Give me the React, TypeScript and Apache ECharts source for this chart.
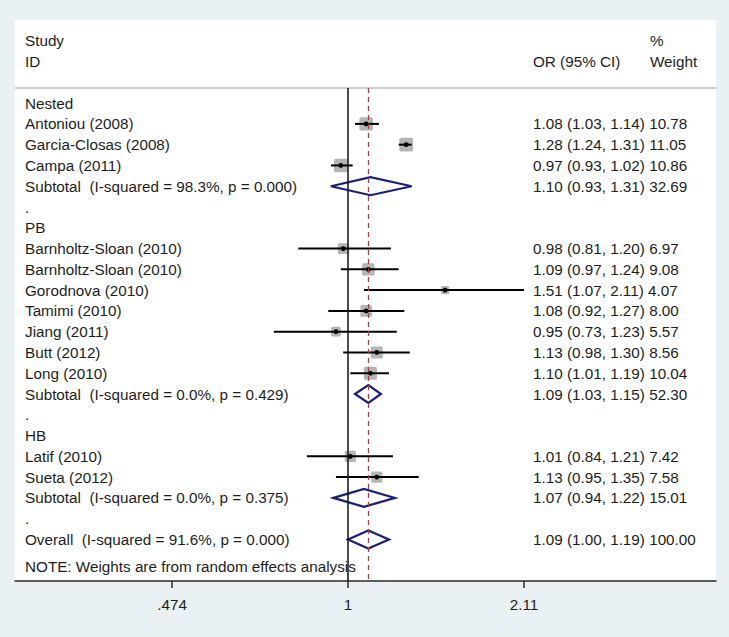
import React, { useEffect, useRef } from "react";
import * as echarts from "echarts";

// ---------- data ----------
const groupNames = ["Nested", "PB", "HB"];
const studyNames = [
  "Antoniou (2008)",
  "Garcia-Closas (2008)",
  "Campa (2011)",
  "Barnholtz-Sloan (2010)",
  "Barnholtz-Sloan (2010)",
  "Gorodnova (2010)",
  "Tamimi (2010)",
  "Jiang (2011)",
  "Butt (2012)",
  "Long (2010)",
  "Latif (2010)",
  "Sueta (2012)",
];
const studyGroup = [0, 0, 0, 1, 1, 1, 1, 1, 1, 1, 2, 2];
const studyOR = [1.08, 1.28, 0.97, 0.98, 1.09, 1.51, 1.08, 0.95, 1.13, 1.1, 1.01, 1.13];
const studyLow = [1.03, 1.24, 0.93, 0.81, 0.97, 1.07, 0.92, 0.73, 0.98, 1.01, 0.84, 0.95];
const studyHigh = [1.14, 1.31, 1.02, 1.2, 1.24, 2.11, 1.27, 1.23, 1.3, 1.19, 1.21, 1.35];
const studyWeight = [10.78, 11.05, 10.86, 6.97, 9.08, 4.07, 8.0, 5.57, 8.56, 10.04, 7.42, 7.58];

const subtotalLabels = [
  "Subtotal  (I-squared = 98.3%, p = 0.000)",
  "Subtotal  (I-squared = 0.0%, p = 0.429)",
  "Subtotal  (I-squared = 0.0%, p = 0.375)",
];
const subtotalOR = [1.1, 1.09, 1.07];
const subtotalLow = [0.93, 1.03, 0.94];
const subtotalHigh = [1.31, 1.15, 1.22];
const subtotalWeight = [32.69, 52.3, 15.01];

const overallLabel = "Overall  (I-squared = 91.6%, p = 0.000)";
const overallOR = 1.09;
const overallLow = 1.0;
const overallHigh = 1.19;
const overallWeight = 100.0;

const tickValues = [0.474, 1, 2.11];
const tickLabels = [".474", "1", "2.11"];

const headerStudy = ["Study", "ID"];
const headerCI = "OR (95% CI)";
const headerWeight = ["%", "Weight"];
const noteText = "NOTE: Weights are from random effects analysis";

// ---------- layout constants ----------
const FONT = "'Liberation Sans', Arial, sans-serif";
const FS = 15.25;
const X_MIN = -1.4128;
const X_MAX = 1.5613;
const Y_MIN = -4;
const Y_MAX = 23;
const HEADER_LINE_ROW = -0.73;
const LEFT_X = 25;
const CI_X = 533;
const WEIGHT_X = 650;
const BOX_K = 4.1;
const DIAMOND_H = 9;

type TextRow = { row: number; left: string; right?: string; weightCol?: string };

function fmt(or: number, lo: number, hi: number, w: number) {
  return `${or.toFixed(2)} (${lo.toFixed(2)}, ${hi.toFixed(2)}) ${w.toFixed(2)}`;
}

function buildRows() {
  const texts: TextRow[] = [];
  const studies: number[][] = [];
  const diamonds: number[][] = [];
  texts.push({ row: -3, left: headerStudy[0], weightCol: headerWeight[0] });
  texts.push({ row: -2, left: headerStudy[1], right: headerCI, weightCol: headerWeight[1] });
  let r = 0;
  groupNames.forEach((g, gi) => {
    texts.push({ row: r++, left: g });
    studyNames.forEach((name, i) => {
      if (studyGroup[i] !== gi) return;
      texts.push({ row: r, left: name, right: fmt(studyOR[i], studyLow[i], studyHigh[i], studyWeight[i]) });
      studies.push([Math.log(studyOR[i]), r, Math.log(studyLow[i]), Math.log(studyHigh[i]), studyWeight[i]]);
      r++;
    });
    texts.push({
      row: r,
      left: subtotalLabels[gi],
      right: fmt(subtotalOR[gi], subtotalLow[gi], subtotalHigh[gi], subtotalWeight[gi]),
    });
    diamonds.push([Math.log(subtotalOR[gi]), r, Math.log(subtotalLow[gi]), Math.log(subtotalHigh[gi])]);
    r++;
    texts.push({ row: r++, left: "." });
  });
  texts.push({ row: r, left: overallLabel, right: fmt(overallOR, overallLow, overallHigh, overallWeight) });
  diamonds.push([Math.log(overallOR), r, Math.log(overallLow), Math.log(overallHigh)]);
  texts.push({ row: r + 1.3, left: noteText });
  return { texts, studies, diamonds };
}

export default function App() {
  const ref = useRef<HTMLDivElement>(null);
  useEffect(() => {
    if (!ref.current) return;
    const chart = echarts.init(ref.current, null, { renderer: "svg" });
    const { texts, studies, diamonds } = buildRows();
    const lnOverall = Math.log(overallOR);

    const textStyle = (s: string, x: number, y: number) => ({
      type: "text",
      style: {
        text: s,
        x,
        y,
        fill: "#1e1e1e",
        fontSize: FS,
        fontFamily: FONT,
        align: "left",
        verticalAlign: "middle",
      },
    });

    const option: any = {
      animation: false,
      backgroundColor: "#e9f1f4",
      grid: {
        left: 15,
        right: 13,
        top: 20,
        bottom: 56,
        show: true,
        backgroundColor: "#ffffff",
        borderWidth: 0,
        outerBoundsMode: "none",
      },
      xAxis: {
        type: "value",
        min: X_MIN,
        max: X_MAX,
        splitLine: { show: false },
        axisLine: { show: true, onZero: false, lineStyle: { color: "#2a2a2a", width: 1.5 } },
        axisTick: {
          show: true,
          customValues: tickValues.map((v) => Math.log(v)),
          length: 7,
          lineStyle: { color: "#2a2a2a", width: 1.5 },
        },
        axisLabel: {
          show: true,
          customValues: tickValues.map((v) => Math.log(v)),
          margin: 16,
          fontSize: FS,
          fontFamily: FONT,
          color: "#1e1e1e",
          formatter: (v: number) => {
            let best = 0;
            tickValues.forEach((t, i) => {
              if (Math.abs(Math.log(t) - v) < Math.abs(Math.log(tickValues[best]) - v)) best = i;
            });
            return tickLabels[best];
          },
        },
      },
      yAxis: {
        type: "value",
        inverse: true,
        min: Y_MIN,
        max: Y_MAX,
        show: false,
      },
      series: [
        {
          type: "custom",
          name: "refLines",
          z: 1,
          data: [[0, 0]],
          renderItem: () => ({ type: "group", children: [] }),
          markLine: {
            silent: true,
            symbol: "none",
            label: { show: false },
            animation: false,
            data: [
              [
                { coord: [X_MIN, HEADER_LINE_ROW], lineStyle: { color: "#cfcfcf", width: 2, type: "solid" } },
                { coord: [X_MAX, HEADER_LINE_ROW] },
              ],
              [
                { coord: [0, HEADER_LINE_ROW], lineStyle: { color: "#111111", width: 1.5, type: "solid" } },
                { coord: [0, Y_MAX] },
              ],
              [
                { coord: [lnOverall, HEADER_LINE_ROW], lineStyle: { color: "#a0404a", width: 1.3, type: [5, 4] } },
                { coord: [lnOverall, Y_MAX] },
              ],
            ],
          },
        },
        {
          type: "custom",
          name: "studies",
          z: 3,
          data: studies,
          encode: { x: [0, 2, 3], y: 1 },
          renderItem: (_p: any, api: any) => {
            const row = api.value(1);
            const c = api.coord([api.value(0), row]);
            const l = api.coord([api.value(2), row]);
            const h = api.coord([api.value(3), row]);
            const s = BOX_K * Math.sqrt(api.value(4));
            return {
              type: "group",
              children: [
                {
                  type: "rect",
                  shape: { x: c[0] - s / 2, y: c[1] - s / 2, width: s, height: s, r: 1.5 },
                  style: { fill: "#b5b5b5" },
                },
                {
                  type: "line",
                  shape: { x1: l[0], y1: l[1], x2: h[0], y2: h[1] },
                  style: { stroke: "#000000", lineWidth: 2 },
                },
                {
                  type: "circle",
                  shape: { cx: c[0], cy: c[1], r: 2.4 },
                  style: { fill: "#000000" },
                },
              ],
            };
          },
        },
        {
          type: "custom",
          name: "pooled",
          z: 3,
          data: diamonds,
          encode: { x: [0, 2, 3], y: 1 },
          renderItem: (_p: any, api: any) => {
            const row = api.value(1);
            const c = api.coord([api.value(0), row]);
            const l = api.coord([api.value(2), row]);
            const h = api.coord([api.value(3), row]);
            return {
              type: "polygon",
              shape: {
                points: [
                  [l[0], l[1]],
                  [c[0], c[1] - DIAMOND_H],
                  [h[0], h[1]],
                  [c[0], c[1] + DIAMOND_H],
                ],
              },
              style: { fill: "none", stroke: "#1c1f78", lineWidth: 2.2, lineJoin: "miter" },
            };
          },
        },
        {
          type: "custom",
          name: "texts",
          z: 4,
          clip: false,
          data: texts.map((t, i) => [0, t.row, i]),
          encode: { x: 0, y: 1 },
          renderItem: (_p: any, api: any) => {
            const t = texts[api.value(2)];
            const y = api.coord([0, api.value(1)])[1];
            const children: any[] = [textStyle(t.left, LEFT_X, y)];
            if (t.right) children.push(textStyle(t.right, CI_X, y));
            if (t.weightCol) children.push(textStyle(t.weightCol, WEIGHT_X, y));
            return { type: "group", children };
          },
        },
      ],
    };
    chart.setOption(option);
    return () => chart.dispose();
  }, []);
  return (
    <div
      ref={ref}
      style={{ position: "fixed", left: 0, top: 0, width: 729, height: 637 }}
    />
  );
}
